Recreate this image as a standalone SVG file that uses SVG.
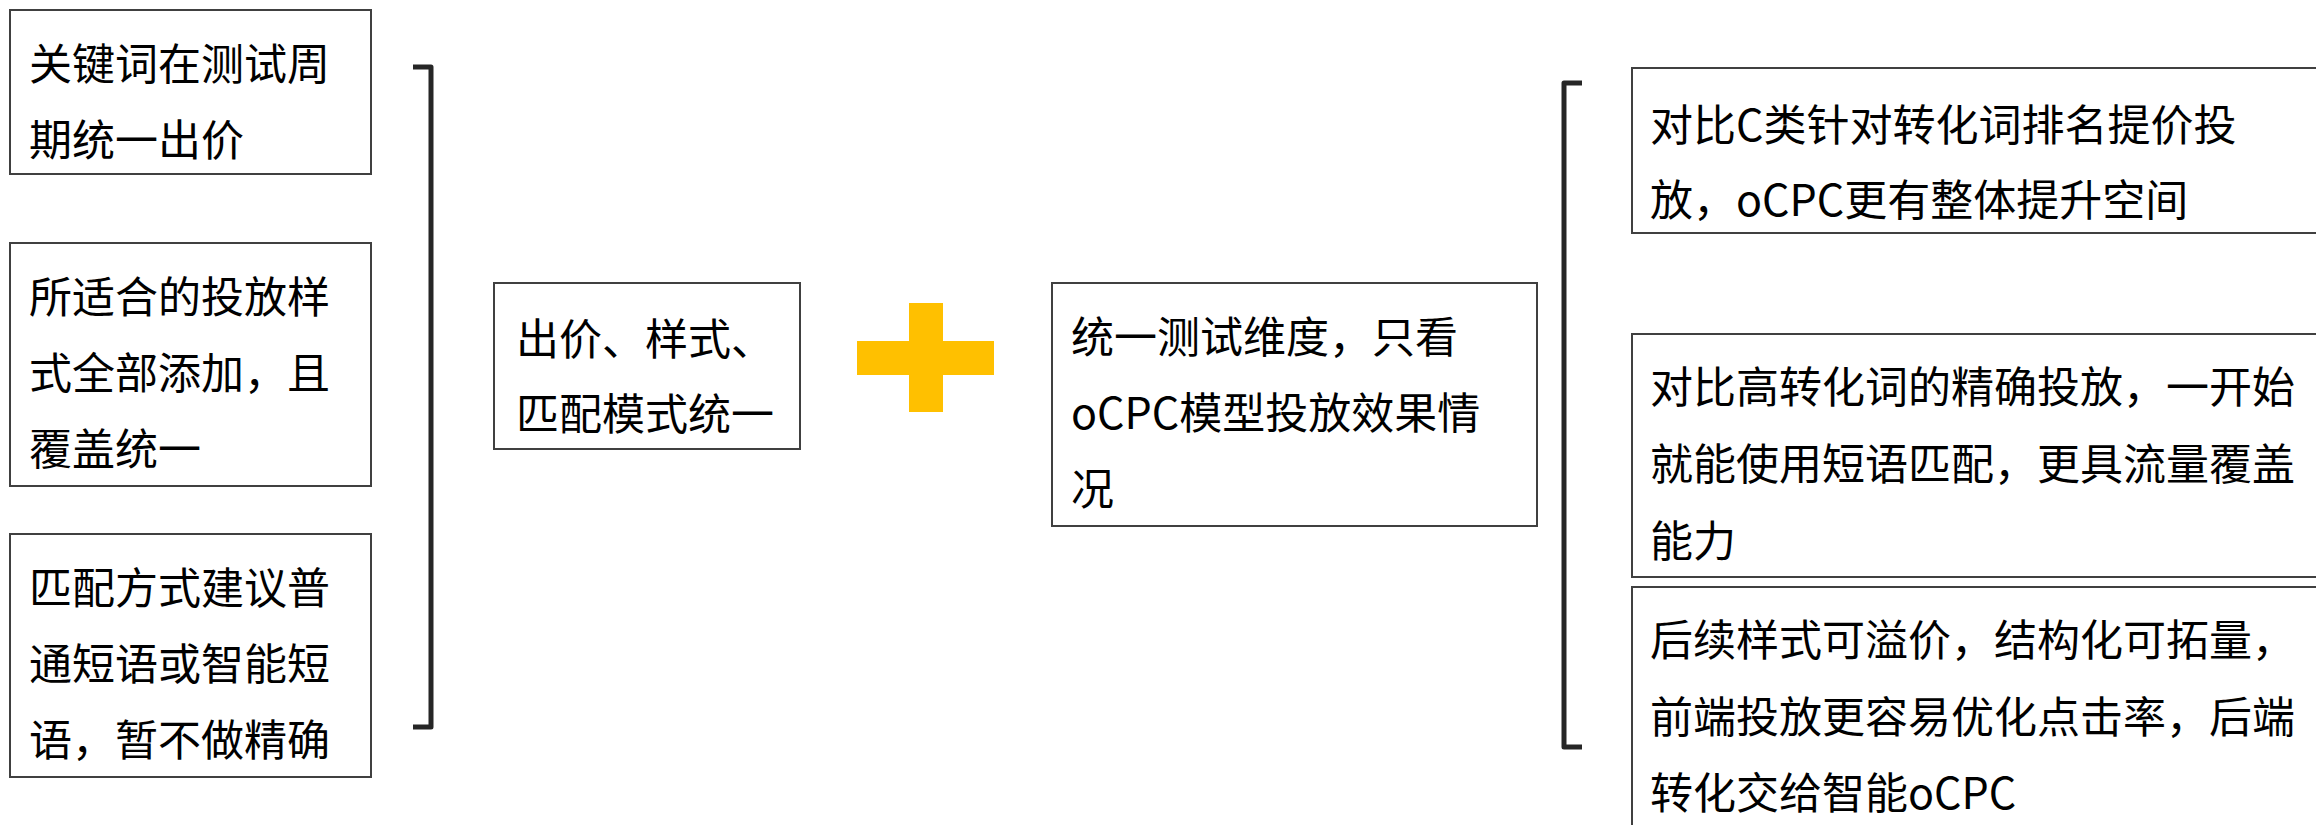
<svg xmlns="http://www.w3.org/2000/svg" width="2316" height="825" viewBox="0 0 2316 825">
<style>
.box{fill:#fff;stroke:#404040;stroke-width:2}
.t{font-family:"Noto Sans CJK SC","Noto Sans",sans-serif;font-size:43px;fill:#000}
.br{fill:none;stroke:#262626;stroke-width:5;stroke-linejoin:round}
</style>
<rect width="2316" height="825" fill="#fff"/>
<g id="connectors">
<path class="br" d="M413,67 H431 V727 H413"/>
<path class="br" d="M1582,83 H1564 V747 H1582"/>
</g>
<g id="n1"><rect class="box" x="10" y="10" width="361" height="164"/>
<text class="t" x="29" y="80">关键词在测试周</text><text class="t" x="29" y="156">期统一出价</text></g>
<g id="n2"><rect class="box" x="10" y="243" width="361" height="243"/>
<text class="t" x="29" y="313">所适合的投放样</text><text class="t" x="29" y="389">式全部添加，且</text><text class="t" x="29" y="465">覆盖统一</text></g>
<g id="n3"><rect class="box" x="10" y="534" width="361" height="243"/>
<text class="t" x="29" y="604">匹配方式建议普</text><text class="t" x="29" y="680">通短语或智能短</text><text class="t" x="29" y="756">语，暂不做精确</text></g>
<g id="n4"><rect class="box" x="494" y="283" width="306" height="166"/>
<text class="t" x="516" y="355">出价、样式、</text><text class="t" x="516" y="430">匹配模式统一</text></g>
<g id="plus"><rect x="909" y="303" width="34" height="109" fill="#FFC000"/><rect x="857" y="341" width="137" height="34" fill="#FFC000"/></g>
<g id="n5"><rect class="box" x="1052" y="283" width="485" height="243"/>
<text class="t" x="1071" y="353">统一测试维度，只看</text><text class="t" x="1071" y="429">oCPC模型投放效果情</text><text class="t" x="1071" y="505">况</text></g>
<g id="r1"><rect class="box" x="1632" y="68" width="700" height="165"/>
<text class="t" x="1650" y="141">对比C类针对转化词排名提价投</text><text class="t" x="1650" y="216">放，oCPC更有整体提升空间</text></g>
<g id="r2"><rect class="box" x="1632" y="334" width="700" height="243"/>
<text class="t" x="1650" y="403">对比高转化词的精确投放，一开始</text><text class="t" x="1650" y="480">就能使用短语匹配，更具流量覆盖</text><text class="t" x="1650" y="557">能力</text></g>
<g id="r3"><rect class="box" x="1632" y="587" width="700" height="260"/>
<text class="t" x="1650" y="656">后续样式可溢价，结构化可拓量，</text><text class="t" x="1650" y="733">前端投放更容易优化点击率，后端</text><text class="t" x="1650" y="809">转化交给智能oCPC</text></g>
</svg>
